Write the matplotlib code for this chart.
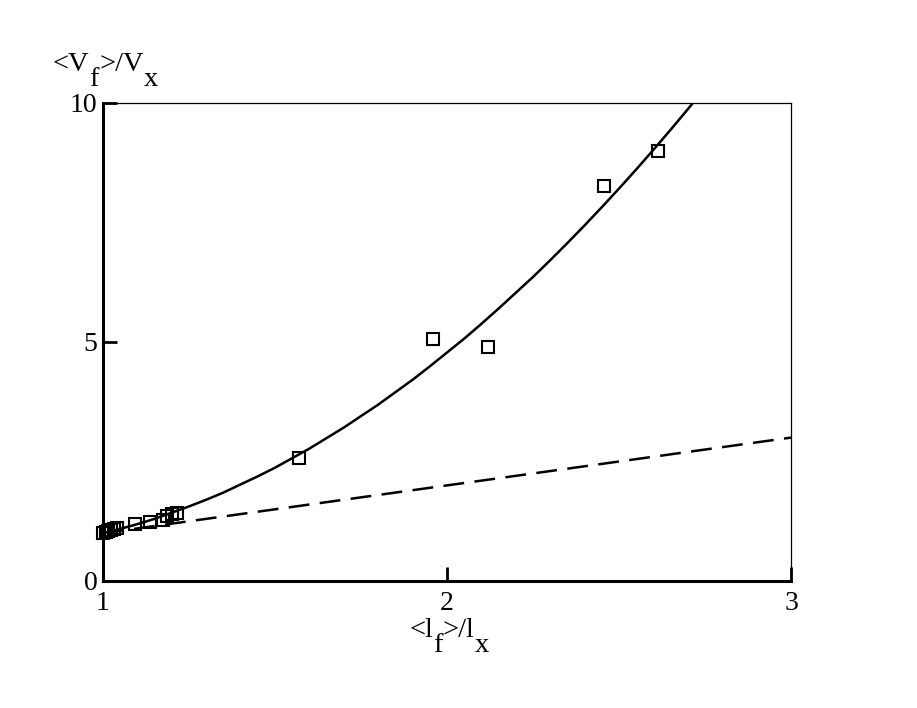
import matplotlib
matplotlib.use("Agg")
import matplotlib.pyplot as plt

plt.rcParams['font.family'] = ['Liberation Serif', 'DejaVu Serif']
plt.rcParams['lines.scale_dashes'] = False

# measured data (open squares)
lf_ratio = [1.000, 1.009, 1.015, 1.023, 1.032, 1.041, 1.093, 1.137,
            1.175, 1.186, 1.200, 1.215, 1.571, 1.958, 2.118, 2.456, 2.613]
vf_ratio = [1.00, 1.02, 1.04, 1.06, 1.08, 1.10, 1.19, 1.23,
            1.28, 1.36, 1.40, 1.42, 2.57, 5.06, 4.90, 8.26, 9.00]

# fitted curve
curve_x = [1.00, 1.05, 1.10, 1.15, 1.20, 1.25, 1.30, 1.35, 1.40, 1.45,
           1.50, 1.55, 1.60, 1.65, 1.70, 1.75, 1.80, 1.85, 1.90, 1.95,
           2.00, 2.05, 2.10, 2.15, 2.20, 2.25, 2.30, 2.35, 2.40, 2.45,
           2.50, 2.55, 2.60, 2.65, 2.70, 2.75]
curve_y = [1.00, 1.09, 1.19, 1.30, 1.43, 1.56, 1.70, 1.85, 2.02, 2.19,
           2.37, 2.57, 2.77, 2.99, 3.21, 3.45, 3.69, 3.95, 4.21, 4.49,
           4.78, 5.07, 5.38, 5.70, 6.03, 6.36, 6.71, 7.07, 7.44, 7.82,
           8.21, 8.61, 9.02, 9.44, 9.87, 10.31]

# reference line  <V_f>/V_x = <l_f>/l_x
ref_x = [1.0, 3.0]
ref_y = [1.0, 3.0]

xticks = [1, 2, 3]
yticks = [0, 5, 10]

W, H, DPI = 917, 708, 100
fig = plt.figure(figsize=(W / DPI, H / DPI), dpi=DPI)
ax = fig.add_axes([103 / W, 1 - 581 / H, (791 - 103) / W, (581 - 103) / H])

ax.plot(curve_x, curve_y, color='black', lw=1.8, solid_joinstyle='round')
ax.plot(ref_x, ref_y, color='black', lw=1.8, linestyle=(0, (15, 7.5)))
ax.plot(lf_ratio, vf_ratio, linestyle='none', marker='s', ms=8,
        mfc='none', mec='black', mew=1.5, clip_on=False)

ax.set_xlim(1, 3)
ax.set_ylim(0, 10)
ax.set_xticks(xticks)
ax.set_yticks(yticks)
ax.set_xticklabels([str(v) for v in xticks])
ax.set_yticklabels([str(v) for v in yticks])
ax.tick_params(direction='in', length=10, width=2, labelsize=20)
ax.tick_params(axis='x', pad=7)
ax.tick_params(axis='y', pad=4)
ax.minorticks_off()

for side in ['left', 'bottom']:
    ax.spines[side].set_linewidth(2.2)
for side in ['top', 'right']:
    ax.spines[side].set_linewidth(0.9)

fig.canvas.draw()
renderer = fig.canvas.get_renderer()


def rich_label(x_px, base_px, sub_px, pieces, size=20.5, center=False):
    """pieces: list of (text, is_subscript); coordinates in image pixels"""
    texts = []
    x = x_px
    for s, sub in pieces:
        y = sub_px if sub else base_px
        t = fig.text(x / W, 1 - y / H, s, fontsize=size, va='baseline', ha='left')
        bb = t.get_window_extent(renderer)
        texts.append(t)
        x += bb.width
    if center:
        total = x - x_px
        shift = total / 2
        for t in texts:
            px, py = t.get_position()
            t.set_position((px - shift / W, py))
    return texts


rich_label(53, 71, 86, [('<V', False), ('f', True), ('>/V', False), ('x', True)])
rich_label(449, 637, 652, [('<l', False), ('f', True), ('>/l', False), ('x', True)],
           center=True)

fig.savefig('out.png', dpi=DPI)
